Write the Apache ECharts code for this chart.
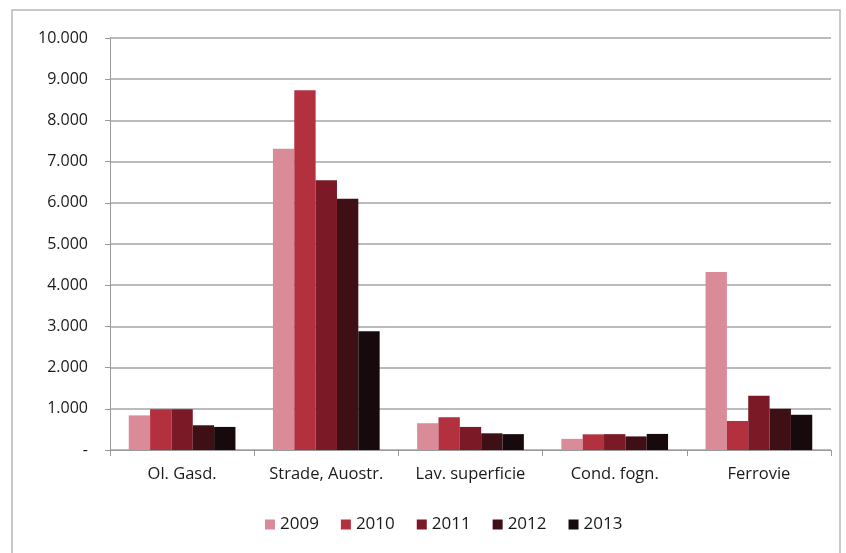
<!DOCTYPE html>
<html>
<head>
<meta charset="utf-8">
<script src="https://cdn.jsdelivr.net/npm/echarts@6/dist/echarts.min.js"></script>
<style>
html,body{margin:0;padding:0;background:#fff;}
#chart{width:846px;height:553px;}
</style>
</head>
<body>
<div id="chart"></div>
<script>
const categories = ['Ol. Gasd.', 'Strade, Auostr.', 'Lav. superficie', 'Cond. fogn.', 'Ferrovie'];
const years = ['2009', '2010', '2011', '2012', '2013'];
const v2009 = [840, 7310, 650, 270, 4320];
const v2010 = [990, 8730, 795, 380, 705];
const v2011 = [990, 6550, 560, 385, 1315];
const v2012 = [600, 6100, 405, 330, 1000];
const v2013 = [560, 2880, 385, 390, 855];
const yTicks = [0, 1000, 2000, 3000, 4000, 5000, 6000, 7000, 8000, 9000, 10000];
const colors = ['#d98b98', '#b3303f', '#7b1a26', '#3e1016', '#170a0c'];

const seriesValues = [v2009, v2010, v2011, v2012, v2013];
const font = 'Open Sans, Liberation Sans, sans-serif';

const chart = echarts.init(document.getElementById('chart'));
chart.setOption({
  animation: false,
  backgroundColor: '#fff',
  graphic: [{
    type: 'rect',
    shape: { x: 12, y: 10, width: 828, height: 560 },
    style: { fill: 'none', stroke: '#b8b8b8', lineWidth: 1.5 }
  }],
  grid: { left: 110, right: 15, top: 38, bottom: 103, containLabel: false },
  legend: {
    top: 511,
    left: 260,
    itemWidth: 10,
    itemHeight: 10,
    itemGap: 22,
    icon: 'rect',
    textStyle: { fontFamily: font, fontSize: 17, color: '#1a1a1a' },
    data: years
  },
  xAxis: {
    type: 'category',
    data: categories,
    axisLine: { show: true, lineStyle: { color: '#9a9a9a', width: 1 } },
    axisTick: { show: true, length: 6, lineStyle: { color: '#9a9a9a' } },
    axisLabel: { interval: 0, hideOverlap: false, fontFamily: font, fontSize: 16.5, color: '#1a1a1a', margin: 16 }
  },
  yAxis: {
    type: 'value',
    min: 0,
    max: 10000,
    interval: 1000,
    axisLine: { show: true, lineStyle: { color: '#9a9a9a', width: 1 } },
    axisTick: { show: true, length: 5, lineStyle: { color: '#9a9a9a' } },
    splitLine: { show: true, lineStyle: { color: '#a4a4a4', width: 1.5 } },
    axisLabel: {
      fontFamily: font, fontSize: 16, color: '#1a1a1a', margin: 22,
      formatter: function (v) {
        if (v === 0) return '-';
        return String(v).replace(/\B(?=(\d{3})+(?!\d))/g, '.');
      }
    }
  },
  series: years.map(function (y, i) {
    return {
      name: y,
      type: 'bar',
      data: seriesValues[i],
      barGap: '0%',
      barCategoryGap: '26%',
      itemStyle: { color: colors[i] }
    };
  })
});
</script>
</body>
</html>
